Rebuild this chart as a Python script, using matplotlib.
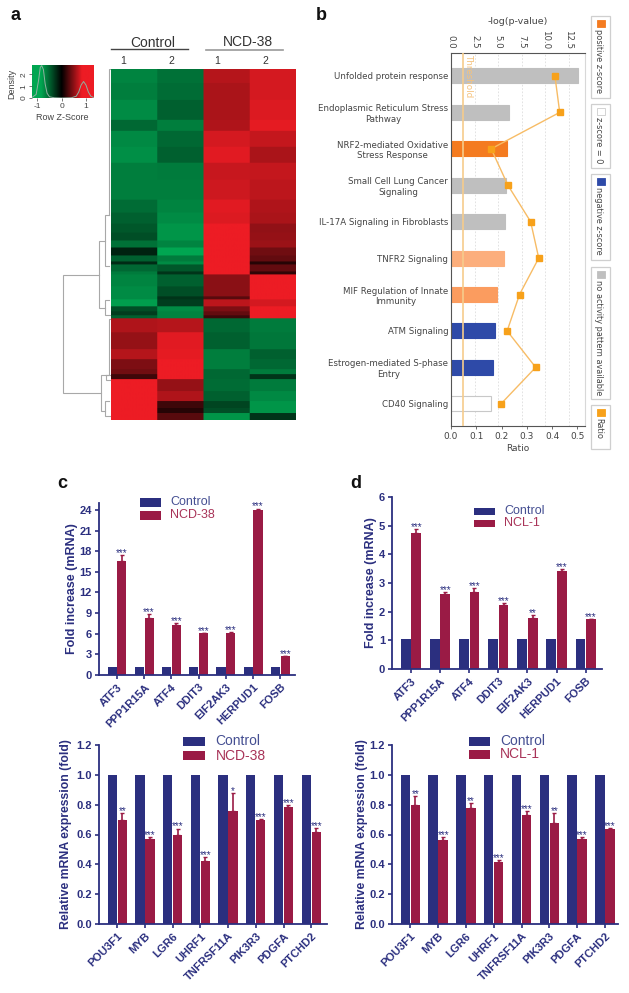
import numpy as np
import matplotlib
matplotlib.use("Agg")
import matplotlib.pyplot as plt
from matplotlib.colors import LinearSegmentedColormap
from matplotlib.patches import Rectangle

# heatmap bands: number of rows in each band and z-score per sample
band_rows = [14, 17, 20, 11, 16, 16, 17, 20, 13, 11, 9, 8, 7, 8, 6, 3, 7, 3, 12, 10, 3, 7, 5, 4, 3,
             14, 17, 10, 10, 5, 5, 12, 10, 7, 5, 7]
control_1 = [-.75, -.72, -.8, -.6, -.78, -.82, -.72, -.72, -.62, -.55, -.5, -.45, -.65, -.2, -.55, -.25, -.6, -.7,
             -.75, -.8, -.8, -.9, -.45, -.35, -.55,
             .7, .6, .72, .5, .45, .25, 1, 1, 1, 1, 1]
control_2 = [-.65, -.62, -.55, -.72, -.6, -.55, -.7, -.72, -.75, -.8, -.85, -.85, -.75, -1, -.7, -.8, -.5, -.3,
             -.55, -.45, -.3, -.35, -.8, -.75, -.75,
             .72, .9, .92, 1, 1, 1, .6, .7, .25, .15, .35]
ncd_1 = [.72, .68, .68, .7, .85, .9, .8, .82, .9, .88, .98, .98, .95, .95, 1, 1, 1, 1,
         .55, .55, .35, .75, .5, .4, .25,
         -.6, -.55, -.72, -.72, -.6, -.6, -.62, -.55, -.4, -.45, -.85]
ncd_2 = [.85, .85, .88, .92, .78, .68, .78, .75, .7, .68, .58, .6, .62, .45, .4, .15, .4, .2,
         1, 1, 1, .85, .95, 1, 1,
         -.7, -.68, -.55, -.6, -.7, -.3, -.7, -.78, -.85, -.85, -.3]

# dendrogram merges: distance, row of each child, distance of each child
link_dist = [47.7, 11.7, 10, 5.7, 5.7, 4.5, 6, 2, 2]
link_y1 = [205.7, 172, 306, 146, 231, 306, 332, 0, 250]
link_y2 = [324, 239, 342, 197, 246, 311, 347, 146, 306]
link_d1 = [11.7, 5.7, 4.5, 2, 2, 1, 2, 1, 1]
link_d2 = [10, 5.7, 6, 2, 1, 1, 1, 2, 4.5]

# density curves in the colour key
density_x = [-1.22, -1.05, -.95, -.88, -.82, -.75, -.68, -.6, -.5, -.3, 0, .4, .6, .7, .8, .9, 1.0, 1.1, 1.2, 1.33]
density_y = [.05, .3, 1.5, 2.6, 2.75, 2.4, 1.2, .4, .1, .02, 0, .02, .15, .5, 1.1, 1.4, 1.1, .5, .15, .03]

# panel b
pathways = ["Unfolded protein response", "Endoplasmic Reticulum Stress\nPathway",
            "NRF2-mediated Oxidative\nStress Response", "Small Cell Lung Cancer\nSignaling",
            "IL-17A Signaling in Fibroblasts", "TNFR2 Signaling", "MIF Regulation of Innate\nImmunity",
            "ATM Signaling", "Estrogen-mediated S-phase\nEntry", "CD40 Signaling"]
log_p = [13.45, 6.15, 5.97, 5.83, 5.72, 5.62, 4.92, 4.67, 4.46, 4.21]
ratio = [.411, .43, .159, .225, .315, .347, .271, .222, .335, .198]
pathway_colors = ["#bfbfbf", "#bfbfbf", "#f47b20", "#bfbfbf", "#bfbfbf", "#fcae7c", "#fb9c5f", "#2e4aa8", "#2e4aa8", "white"]
legend_b = ["positive z-score", "z-score = 0", "negative z-score", "no activity pattern available", "Ratio"]

# panels c and d
up_genes = ["ATF3", "PPP1R15A", "ATF4", "DDIT3", "EIF2AK3", "HERPUD1", "FOSB"]
up_ncd = [16.5, 8.3, 7.3, 6.05, 6.05, 24, 2.7]
up_ncd_err = [.9, .5, .3, .05, .15, .2, .1]
up_ncd_stars = ["***"] * 7
up_ncl = [4.75, 2.63, 2.7, 2.25, 1.78, 3.42, 1.73]
up_ncl_err = [.13, .05, .12, .05, .1, .06, .02]
up_ncl_stars = ["***", "***", "***", "***", "**", "***", "***"]

down_genes = ["POU3F1", "MYB", "LGR6", "UHRF1", "TNFRSF11A", "PIK3R3", "PDGFA", "PTCHD2"]
down_ncd = [.70, .57, .595, .425, .755, .70, .785, .615]
down_ncd_err = [.045, .015, .045, .025, .12, .003, .01, .03]
down_ncd_stars = ["**", "***", "***", "***", "*", "***", "***", "***"]
down_ncl = [.80, .565, .78, .415, .73, .675, .57, .64]
down_ncl_err = [.055, .02, .03, .015, .025, .07, .015, .005]
down_ncl_stars = ["**", "***", "**", "***", "***", "**", "***", "***"]

NAVY = "#2b2f7f"
CRIMSON = "#9a1b45"
W, H = 629, 993

plt.rcParams["font.family"] = ["Liberation Sans", "DejaVu Sans"]
fig = plt.figure(figsize=(W / 100, H / 100), dpi=100)


def axes_px(left, top, right, bottom):
    return fig.add_axes([left / W, 1 - bottom / H, (right - left) / W, (bottom - top) / H])


def text_px(x, y, s, **kw):
    kw.setdefault("ha", "center")
    kw.setdefault("va", "center")
    fig.text(x / W, 1 - y / H, s, **kw)


def rect_px(x0, y0, x1, y1, **kw):
    fig.add_artist(Rectangle((x0 / W, 1 - y1 / H), (x1 - x0) / W, (y1 - y0) / H,
                             transform=fig.transFigure, **kw))


def bar_panel(box, genes, control, treated, err, stars, ylim, yticks, yfmt, ylabel, xlim, pad, size=9):
    ax = axes_px(*box)
    x = np.arange(len(genes))
    ax.bar(x - .18, [control] * len(genes), .335, color=NAVY)
    ax.bar(x + .18, treated, .335, color=CRIMSON)
    ax.errorbar(x + .18, treated, yerr=[[0] * len(genes), err], fmt="none", ecolor=CRIMSON,
                elinewidth=1.2, capsize=1.6, capthick=1)
    for xi, v, e, s in zip(x, treated, err, stars):
        ax.annotate(s, (xi + .18, v + e), xytext=(0, 1.5), textcoords="offset points", ha="center",
                    va="center", fontsize=7, color=NAVY)
    ax.set_xlim(*xlim)
    ax.set_ylim(*ylim)
    ax.set_yticks(yticks)
    ax.set_yticklabels([yfmt % t for t in yticks], fontsize=8, fontweight="bold", color=NAVY)
    ax.set_xticks(x)
    ax.set_xticklabels(genes, rotation=45, ha="right", rotation_mode="anchor", fontsize=8,
                       fontweight="bold", color=NAVY)
    ax.set_ylabel(ylabel, fontsize=size, fontweight="bold", color=NAVY, labelpad=pad)
    ax.tick_params(color=NAVY, width=1.2, length=3, pad=2)
    for s in ["top", "right"]:
        ax.spines[s].set_visible(False)
    for s in ["left", "bottom"]:
        ax.spines[s].set_color(NAVY)
        ax.spines[s].set_linewidth(1.3)
    return ax


def bar_legend(x0, x1, rows, xt, names, size):
    for (y0, y1), c, name in zip(rows, [NAVY, CRIMSON], names):
        rect_px(x0, y0, x1, y1, facecolor=c, edgecolor="none")
        text_px(xt, (y0 + y1) / 2, name, ha="left", fontsize=size,
                color="#454f92" if c == NAVY else "#a83358")


# panel a: heatmap
cmap = LinearSegmentedColormap.from_list("gbr", ["#00a651", "#000000", "#ed1c24"])
heat = np.column_stack([control_1, control_2, ncd_1, ncd_2])
heat = np.repeat(np.repeat(heat, band_rows, axis=0), 46, axis=1)
ax = axes_px(111, 69, 296, 420)
ax.imshow(heat, cmap=cmap, vmin=-.95, vmax=.95, aspect="auto", interpolation="bilinear")
ax.axis("off")

den = axes_px(62, 69, 111, 420)
for d, y1, y2, d1, d2 in zip(link_dist, link_y1, link_y2, link_d1, link_d2):
    den.plot([d1, d, d, d2], [y1, y1, y2, y2], color="#a8a8a8", lw=.8, solid_joinstyle="miter")
den.set_xlim(49, 0)
den.set_ylim(351, 0)
den.axis("off")

key = axes_px(32, 65, 94, 98)
key.imshow(np.linspace(-1.22, 1.33, 200)[None, :], cmap=cmap, vmin=-.85, vmax=.85, aspect="auto",
           extent=(-1.22, 1.33, 0, 2.8))
key.plot(density_x, density_y, color="#8fb0a0", lw=.7)
key.set_xticks([-1, 0, 1])
key.set_xticklabels(["-1", "0", "1"], fontsize=6, color="#444444")
key.set_yticks([0, 1, 2])
key.set_yticklabels(["0", "1", "2"], fontsize=6, rotation=90, va="center", color="#444444")
key.set_xlim(-1.22, 1.33)
key.set_ylim(0, 2.8)
key.tick_params(length=2, width=.5, pad=1.5, color="#444444")
for s in key.spines.values():
    s.set_visible(False)
text_px(62, 118, "Row Z-Score", fontsize=6.5, color="#444444")
text_px(12, 84, "Density", fontsize=6.5, rotation=90, color="#444444")

text_px(153, 43, "Control", fontsize=10, color="#333333")
text_px(248, 42, "NCD-38", fontsize=10, color="#333333")
fig.add_artist(plt.Line2D([111 / W, 188 / W], [1 - 49 / H] * 2, color="#444444", lw=1))
fig.add_artist(plt.Line2D([206 / W, 283 / W], [1 - 49.5 / H] * 2, color="#999999", lw=1.2))
for xt, s in zip([123, 171, 217, 265], ["1", "2", "1", "2"]):
    text_px(xt, 61, s, fontsize=7.5, color="#333333")

# panel b: pathways
ax = axes_px(451, 53, 585, 426)
y = np.arange(len(pathways))
ax.barh(y, log_p, .41, color=pathway_colors, edgecolor=["#c8c8c8" if c == "white" else c for c in pathway_colors],
        linewidth=.8, zorder=2)
ax.axvline(1.3, color="#f6cc8c", lw=1.2, zorder=3)
ax.text(1.85, -.6, "Threshold", rotation=270, ha="center", va="top", fontsize=6.3, color="#f5c27d",
        family="DejaVu Sans", zorder=4)
ax.set_xlim(0, 14.2)
ax.set_ylim(9.61, -.63)
ax.set_yticks(y)
ax.set_yticklabels(pathways, fontsize=6.2, family="DejaVu Sans", color="#444444", multialignment="center")
ax.tick_params(axis="y", length=0, pad=2)
ax.grid(axis="x", color="#dddddd", lw=.6, ls=(0, (2, 2)), zorder=0)
ax.set_axisbelow(True)
ax.spines["top"].set_color("#555555")
ax.spines["left"].set_color("#555555")
ax.spines["bottom"].set_color("#555555")
ax.spines["right"].set_color("#d8d8d8")

tw = ax.twiny()
tw.plot(ratio, y, color="#f7bc66", lw=1, marker="s", ms=4.3, mfc="#f7a11a", mec="#f7a11a")
tw.set_xlim(0, .53)
tw.xaxis.tick_bottom()
tw.xaxis.set_label_position("bottom")
tw.set_xticks([0, .1, .2, .3, .4, .5])
tw.set_xticklabels(["0.0", "0.1", "0.2", "0.3", "0.4", "0.5"], fontsize=6.5, family="DejaVu Sans", color="#444444")
tw.set_xlabel("Ratio", fontsize=6.5, family="DejaVu Sans", color="#444444", labelpad=2)
tw.tick_params(length=2.5, width=.6, color="#555555", pad=2)
for s in tw.spines.values():
    s.set_visible(False)

# twiny moves the first axis ticks, so set the top scale after it
ax.xaxis.tick_top()
ax.xaxis.set_label_position("top")
ax.set_xticks([0, 2.5, 5, 7.5, 10, 12.5])
ax.set_xticklabels(["0.0", "2.5", "5.0", "7.5", "10.0", "12.5"], rotation=270, fontsize=6.2,
                   family="DejaVu Sans", color="#444444")
ax.set_xlabel("-log(p-value)", fontsize=6.8, family="DejaVu Sans", color="#444444", labelpad=4)
ax.tick_params(axis="x", length=0, pad=3)

boxes_b = [(16, 98), (104, 168), (174, 260), (267, 399), (405, 449)]
swatches = ["#f47b20", "white", "#2e4aa8", "#bfbfbf", "#f7a11a"]
for (y0, y1), c, name in zip(boxes_b, swatches, legend_b):
    rect_px(591, y0, 610, y1, facecolor="white", edgecolor="#cfcfcf", lw=.9)
    rect_px(597, y0 + 3.5, 605, y0 + 10.5, facecolor=c, edgecolor="#cccccc" if c == "white" else c, lw=.6, zorder=3)
    text_px(598.5, y0 + 13, name, rotation=270, va="top", fontsize=5.9, family="DejaVu Sans", color="#444444")

# panels c and d: qPCR bars
bar_panel((99, 503, 295, 675), up_genes, 1.1, up_ncd, up_ncd_err, up_ncd_stars, (0, 25),
          list(range(0, 25, 3)), "%d", "Fold increase (mRNA)", (-.66, 6.54), 1)
bar_legend(140, 161, [(497.7, 506.7), (511, 519.7)], 170, ["Control", "NCD-38"], 9)

bar_panel((392, 497, 602, 669), up_genes, 1.03, up_ncl, up_ncl_err, up_ncl_stars, (0, 6),
          list(range(7)), "%d", "Fold increase (mRNA)", (-.65, 6.56), 1.5)
bar_legend(474, 495, [(507.7, 515), (519.7, 527)], 504, ["Control", "NCL-1"], 9)

ticks_down = [0, .2, .4, .6, .8, 1.0, 1.2]
bar_panel((99, 745, 327, 924), down_genes, 1.0, down_ncd, down_ncd_err, down_ncd_stars, (0, 1.2),
          ticks_down, "%.1f", "Relative mRNA expression (fold)", (-.66, 7.57), 3, 8.8)
bar_legend(182.7, 204.7, [(736.7, 745.7), (751, 760)], 215.7, ["Control", "NCD-38"], 10)

bar_panel((392, 745, 618, 924), down_genes, 1.0, down_ncl, down_ncl_err, down_ncl_stars, (0, 1.2),
          ticks_down, "%.1f", "Relative mRNA expression (fold)", (-.66, 7.47), 1, 8.8)
bar_legend(468.7, 490.3, [(736.7, 745.7), (750, 759)], 500, ["Control", "NCL-1"], 10)

# panel letters
for xt, yt, s in [(15, 15, "a"), (321, 15, "b"), (62, 484, "c"), (356, 483, "d")]:
    text_px(xt, yt, s, fontsize=13, fontweight="bold", color="#111111")

fig.savefig("out.png", dpi=100)
